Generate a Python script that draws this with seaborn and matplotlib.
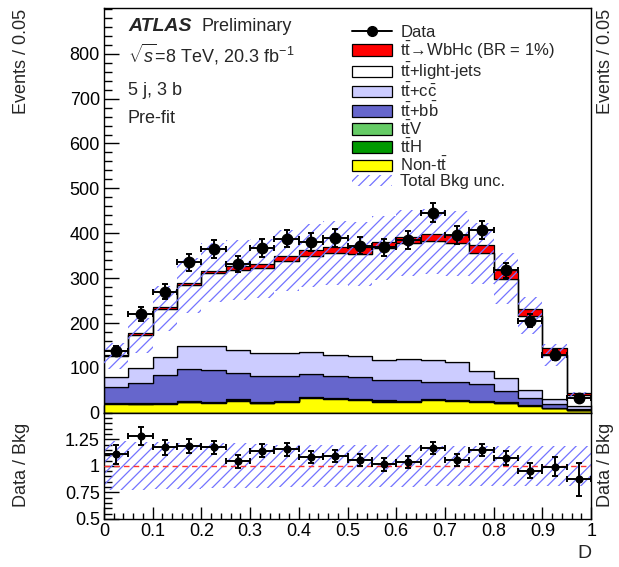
import numpy as np
import pandas as pd
import matplotlib
matplotlib.use("Agg")
import matplotlib.pyplot as plt
import seaborn as sns
from matplotlib.patches import Patch
from matplotlib.lines import Line2D
from matplotlib.ticker import MultipleLocator, FixedLocator

# ---------------- data ----------------
bin_edges = [0.00, 0.05, 0.10, 0.15, 0.20, 0.25, 0.30, 0.35, 0.40, 0.45, 0.50,
             0.55, 0.60, 0.65, 0.70, 0.75, 0.80, 0.85, 0.90, 0.95, 1.00]
data_counts = [138, 220, 270, 335, 365, 332, 367, 388, 381, 389,
               372, 369, 385, 446, 396, 408, 317, 205, 129, 34]
signal_whc = [3, 4, 3, 4, 4, 9, 9, 11, 13, 13, 15, 14, 15, 17, 19, 20, 20, 15, 15, 5]
tt_light = [46, 74, 107, 136, 163, 179, 189, 205, 214, 226,
            227, 248, 258, 264, 263, 261, 222, 165, 97, 24.5]
tt_cc = [22, 32, 41, 52, 54, 50, 51, 51, 50, 48, 47, 45, 47, 49, 45, 30, 28, 19, 13, 5]
tt_bb = [36, 46, 62, 71, 70, 60, 58, 56, 50, 48, 48, 46, 46, 38, 40, 37, 25, 15, 7, 3]
tt_v = [1.0, 1.0, 1.1, 1.2, 1.2, 1.2, 1.2, 1.2, 1.2, 1.2,
        1.2, 1.1, 1.1, 1.0, 1.0, 0.9, 0.7, 0.5, 0.3, 0.2]
tt_h = [0.8, 1.0, 1.2, 1.4, 1.5, 1.5, 1.5, 1.5, 1.5, 1.5,
        1.5, 1.4, 1.4, 1.3, 1.2, 1.0, 0.8, 0.6, 0.4, 0.2]
non_tt = [20, 19, 20, 23, 22, 27, 21, 24, 33, 31, 29, 25, 24, 29, 27, 25, 22, 16, 11, 6]
bkg_rel_unc = [0.23, 0.225, 0.22, 0.215, 0.21, 0.21, 0.205, 0.2, 0.2, 0.2,
               0.2, 0.195, 0.195, 0.19, 0.19, 0.19, 0.19, 0.19, 0.19, 0.19]
ratio_vals = [1.109, 1.279, 1.173, 1.183, 1.173, 1.042, 1.141, 1.154, 1.083, 1.090,
              1.054, 1.013, 1.032, 1.167, 1.054, 1.151, 1.071, 0.952, 0.990, 0.875]
ratio_errs = [0.088, 0.085, 0.07, 0.065, 0.062, 0.06, 0.06, 0.06, 0.058, 0.058,
              0.058, 0.058, 0.056, 0.056, 0.056, 0.058, 0.064, 0.07, 0.09, 0.155]

comp_names = ["sig", "light", "cc", "bb", "ttV", "ttH", "nontt"]   # top -> bottom
comp_values = [signal_whc, tt_light, tt_cc, tt_bb, tt_v, tt_h, non_tt]
comp_colors = ["#ff0000", "#ffffff", "#ccccff", "#6666cc", "#66cc66", "#009900", "#ffff00"]
comp_labels = [r"$\mathrm{t\bar{t}}\!\rightarrow\!$WbHc (BR = 1%)",
               r"$\mathrm{t\bar{t}}$+light-jets",
               r"$\mathrm{t\bar{t}}$+c$\mathrm{\bar{c}}$",
               r"$\mathrm{t\bar{t}}$+b$\mathrm{\bar{b}}$",
               r"$\mathrm{t\bar{t}}$V",
               r"$\mathrm{t\bar{t}}$H",
               r"Non-$\mathrm{t\bar{t}}$"]

# ---------------- style ----------------
sns.set_theme(style="ticks")
plt.rcParams.update({
    "font.family": ["Liberation Sans", "DejaVu Sans"],
    "mathtext.fontset": "custom",
    "mathtext.rm": "Liberation Sans",
    "mathtext.it": "Liberation Sans:italic",
    "mathtext.bf": "Liberation Sans:bold",
    "mathtext.sf": "Liberation Sans",
    "hatch.linewidth": 0.9,
    "axes.linewidth": 1.0,
    "axes.edgecolor": "black",
    "xtick.color": "black",
    "ytick.color": "black",
})
HATCH_COL = "#7373ff"
HATCH = "///"

fig = plt.figure(figsize=(6.19, 5.67), dpi=100)
ax = fig.add_axes([0.168, 0.272, 0.787, 0.714])
ax2 = fig.add_axes([0.168, 0.0847, 0.787, 0.1875])

edges = np.array(bin_edges)
centers = 0.5 * (edges[:-1] + edges[1:])
halfw = 0.5 * np.diff(edges)

# ---------------- stacked histogram via seaborn ----------------
rows = []
for name, vals in zip(comp_names, comp_values):
    for c, v in zip(centers, vals):
        rows.append({"D": c, "w": v, "comp": name})
df = pd.DataFrame(rows)
sns.histplot(data=df, x="D", weights="w", hue="comp", hue_order=comp_names,
             multiple="stack", bins=list(bin_edges), element="step", fill=True,
             palette=dict(zip(comp_names, comp_colors)), alpha=1,
             edgecolor="black", linewidth=0.9, legend=False, ax=ax)

bkg_total = (np.array(tt_light) + np.array(tt_cc) + np.array(tt_bb) + np.array(tt_v)
             + np.array(tt_h) + np.array(non_tt))
unc = np.array(bkg_rel_unc)
lo = np.append(bkg_total * (1 - unc), bkg_total[-1] * (1 - unc[-1]))
hi = np.append(bkg_total * (1 + unc), bkg_total[-1] * (1 + unc[-1]))
ax.fill_between(edges, lo, hi, step="post", facecolor="none", edgecolor=HATCH_COL,
                hatch=HATCH, linewidth=0, zorder=4)

dc = np.array(data_counts, dtype=float)
ax.errorbar(centers, dc, xerr=halfw, yerr=np.sqrt(dc), fmt="o", color="black",
            ms=7.5, elinewidth=1.4, capsize=2.5, capthick=1.4, zorder=6)

ax.set_xlim(0, 1)
ax.set_ylim(0, 902)
ax.set_xlabel("")
ax.set_ylabel("")
ax.yaxis.set_major_locator(FixedLocator(np.arange(0, 900, 100)))
ax.yaxis.set_minor_locator(MultipleLocator(20))
ax.xaxis.set_major_locator(MultipleLocator(0.1))
ax.xaxis.set_minor_locator(MultipleLocator(0.02))
ax.tick_params(axis="both", which="both", direction="in", top=False, right=False)
ax.tick_params(axis="y", which="major", length=11, width=1, labelsize=13, pad=3)
ax.tick_params(axis="y", which="minor", length=5.5, width=1)
ax.tick_params(axis="x", which="major", length=6, width=1, labelbottom=False)
ax.tick_params(axis="x", which="minor", length=3, width=1)

# text block
ax.text(0.051, 0.953, "ATLAS", transform=ax.transAxes, fontsize=14,
        fontweight="bold", fontstyle="italic", va="center", ha="left")
ax.text(0.201, 0.953, "Preliminary", transform=ax.transAxes, fontsize=13,
        va="center", ha="left")
ax.text(0.049, 0.884, r"$\sqrt{s}$=8 TeV, 20.3 fb$^{\mathregular{-1}}$", transform=ax.transAxes,
        fontsize=13, va="center", ha="left")
ax.text(0.049, 0.795, "5 j, 3 b", transform=ax.transAxes, fontsize=13, va="center", ha="left")
ax.text(0.049, 0.726, "Pre-fit", transform=ax.transAxes, fontsize=13, va="center", ha="left")

# legend
handles = [Line2D([0], [0], color="black", marker="o", ms=7, lw=1.4)]
labels = ["Data"]
for col, lab in zip(comp_colors, comp_labels):
    handles.append(Patch(facecolor=col, edgecolor="black", linewidth=0.9))
    labels.append(lab)
handles.append(Patch(facecolor="none", edgecolor=HATCH_COL, hatch=HATCH, linewidth=0))
labels.append("Total Bkg unc.")
ax.legend(handles, labels, loc="upper left",
          bbox_to_anchor=((352 - 104) / 487, 1 - (25 - 8) / 404.7),
          frameon=False, fontsize=12, handlelength=2.4, handleheight=0.7,
          labelspacing=0.0, handletextpad=0.5, borderaxespad=0, borderpad=0)

# ---------------- ratio panel ----------------
r_lo = np.append(1 - unc, 1 - unc[-1])
r_hi = np.append(1 + unc, 1 + unc[-1])
ax2.fill_between(edges, r_lo, r_hi, step="post", facecolor="none", edgecolor=HATCH_COL,
                 hatch=HATCH, linewidth=0, zorder=2)
ax2.axhline(1.0, color="#ff3333", lw=1.0, ls=(0, (4, 3)), zorder=3)
ax2.errorbar(centers, ratio_vals, xerr=halfw, yerr=ratio_errs, fmt="o", color="black",
             ms=4.8, elinewidth=1.4, capsize=2.2, capthick=1.4, zorder=5)
ax2.set_xlim(0, 1)
ax2.set_ylim(0.5, 1.5)
ax2.set_yticks([0.5, 0.75, 1.0, 1.25])
ax2.set_yticklabels(["0.5", "0.75", "1", "1.25"])
ax2.yaxis.set_minor_locator(MultipleLocator(0.05))
ax2.set_xticks(np.round(np.arange(0, 1.01, 0.1), 1))
ax2.set_xticklabels(["0", "0.1", "0.2", "0.3", "0.4", "0.5", "0.6", "0.7", "0.8", "0.9", "1"])
ax2.xaxis.set_minor_locator(MultipleLocator(0.02))
ax2.tick_params(axis="both", which="both", direction="in", top=False, right=False)
ax2.tick_params(axis="y", which="major", length=11, width=1, labelsize=13, pad=3)
ax2.tick_params(axis="y", which="minor", length=5.5, width=1)
ax2.tick_params(axis="x", which="major", length=9, width=1, labelsize=13, pad=3)
ax2.tick_params(axis="x", which="minor", length=4.5, width=1)
ax2.set_xlabel("")
ax2.set_ylabel("")

# axis titles (ROOT-style, duplicated on both sides)
fig.text(0.034, 0.985, "Events / 0.05", rotation=90, ha="center", va="top", fontsize=13)
fig.text(0.978, 0.985, "Events / 0.05", rotation=90, ha="center", va="top", fontsize=13)
fig.text(0.034, 1 - 423 / 567, "Data / Bkg", rotation=90, ha="center", va="top", fontsize=13)
fig.text(0.978, 1 - 423 / 567, "Data / Bkg", rotation=90, ha="center", va="top", fontsize=13)
fig.text(0.955, 1 - 553 / 567, "D", ha="right", va="center", fontsize=14)

fig.savefig("out.png", dpi=100)
